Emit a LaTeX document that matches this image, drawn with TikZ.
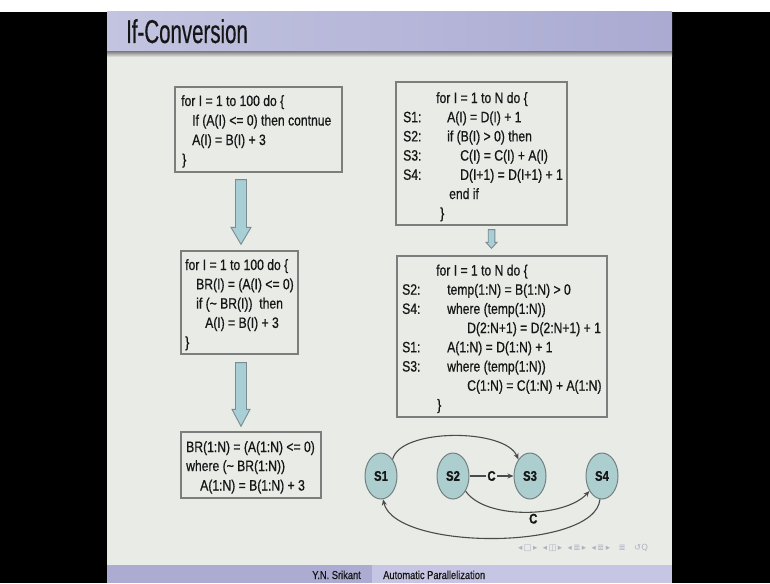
\documentclass[tikz,border=0pt]{standalone}
\usepackage{fontspec}
\setmainfont{Liberation Sans}[FakeStretch=0.81, FakeBold=0.7]
\newfontfamily\titlefont{Liberation Sans}[FakeStretch=0.62, FakeBold=0.4]
\newfontfamily\symfont{DejaVu Sans}
\usetikzlibrary{arrows.meta,shapes.geometric,calc}
\definecolor{slidebg}{RGB}{233,235,231}
\definecolor{titleL}{RGB}{194,196,224}
\definecolor{titleR}{RGB}{170,170,210}
\definecolor{footL}{RGB}{172,172,210}
\definecolor{footR}{RGB}{198,198,228}
\definecolor{boxgray}{RGB}{125,125,125}
\definecolor{arrfill}{RGB}{168,206,214}
\definecolor{arrline}{RGB}{125,138,142}
\definecolor{ellfill}{RGB}{172,206,206}
\definecolor{ellline}{RGB}{115,128,128}
\definecolor{ink}{RGB}{22,22,22}
\definecolor{edgegray}{RGB}{75,75,75}
\definecolor{navgray}{RGB}{175,178,190}
\newcommand\codefont{\fontsize{15}{18}\selectfont}
\newcommand\blkarrow[5]{%
  \draw[blockarr] ($(#1)+(-#3,0)$) -- ($(#2)+(-#3,-#5)$) -- ($(#2)+(-#4,-#5)$) -- (#2)
    -- ($(#2)+(#4,-#5)$) -- ($(#2)+(#3,-#5)$) -- ($(#1)+(#3,0)$) -- cycle;}
\tikzset{
  codebox/.style={draw=boxgray, line width=1.3pt, inner sep=0pt},
  code/.style={anchor=base west, inner sep=0pt, font=\codefont, text=ink},
  blockarr/.style={fill=arrfill, draw=arrline, line width=0.9pt, line join=miter},
  stmt/.style={ellipse, draw=ellline, line width=1pt, fill=ellfill, minimum width=32pt,
    minimum height=46pt, inner sep=0pt, font=\bfseries\fontsize{14}{14}\selectfont, text=ink},
  edge/.style={draw=edgegray, line width=1.1pt, -{Stealth[length=6pt,width=5pt]}},
  lbl/.style={font=\bfseries\fontsize{14}{14}\selectfont, text=ink, inner sep=1.5pt}
}
\begin{document}
\begin{tikzpicture}[x=1pt,y=-1pt]
\useasboundingbox (0,0) rectangle (770,583);
% frame
\fill[white] (0,0) rectangle (770,12);
\fill[black] (0,12) rectangle (770,583);
\fill[slidebg] (107,12) rectangle (672,565);
\shade[left color=titleL, right color=titleR] (107,12) rectangle (672,52);
\shade[top color=black!45, bottom color=slidebg] (107,52) rectangle (672,57);
\node[anchor=base west, inner sep=0pt, font=\titlefont\fontsize{33}{33}\selectfont, text=ink] (title) at (126,43) {If-Conversion};
% footer
\fill[footL] (107,565) rectangle (372,583);
\fill[footR] (372,565) rectangle (672,583);
\node[anchor=base east, inner sep=0pt, font=\fontsize{11.5}{12}\selectfont, text=ink] (author) at (361,579) {Y.N. Srikant};
\node[anchor=base west, inner sep=0pt, font=\fontsize{11.5}{12}\selectfont, text=ink] (talk) at (383,579) {Automatic Parallelization};
\node[inner sep=0pt, font=\symfont\fontsize{8.5}{8.5}\selectfont, text=navgray] (nav) at (583,548)
  {◂\,□\,▸\ \ ◂\,◫\,▸\ \ ◂\,≣\,▸\ \ ◂\,≣\,▸\quad ≣\quad ↺Q};
% boxes
\node[codebox, minimum width=167pt, minimum height=85pt] (b1) at (258.5,129.5) {};
\node[codebox, minimum width=117pt, minimum height=103pt] (b2) at (239.5,302.5) {};
\node[codebox, minimum width=140pt, minimum height=66pt] (b3) at (251,465) {};
\node[codebox, minimum width=171pt, minimum height=143pt] (b4) at (481.5,153.5) {};
\node[codebox, minimum width=210pt, minimum height=161pt] (b5) at (502,336.5) {};
% box 1
\node[code] (b1a) at (181,106) {for I = 1 to 100 do \{};
\node[code] (b1b) at (192,125.5) {If (A(I) <= 0) then contnue};
\node[code] (b1c) at (192,145) {A(I) = B(I) + 3};
\node[code] (b1d) at (182,164.5) {\}};
% box 2
\node[code] (b2a) at (185,270) {for I = 1 to 100 do \{};
\node[code] (b2b) at (196,289.3) {BR(I) = (A(I) <= 0)};
\node[code] (b2c) at (196,308.6) {if (\textasciitilde\ BR(I))\ \ then};
\node[code] (b2d) at (205,327.9) {A(I) = B(I) + 3};
\node[code] (b2e) at (185,347.2) {\}};
% box 3
\node[code] (b3a) at (186,452) {BR(1:N) = (A(1:N) <= 0)};
\node[code] (b3b) at (186,471) {where (\textasciitilde\ BR(1:N))};
\node[code] (b3c) at (200,490.5) {A(1:N) = B(1:N) + 3};
% box 4
\node[code] (b4a) at (436,103) {for I = 1 to N do \{};
\node[code] (b4l1) at (403,122.2) {S1:};
\node[code] (b4b) at (447,122.2) {A(I) = D(I) + 1};
\node[code] (b4l2) at (403,141.4) {S2:};
\node[code] (b4c) at (447,141.4) {if (B(I) > 0) then};
\node[code] (b4l3) at (403,160.6) {S3:};
\node[code] (b4d) at (460,160.6) {C(I) = C(I) + A(I)};
\node[code] (b4l4) at (403,179.8) {S4:};
\node[code] (b4e) at (460,179.8) {D(I+1) = D(I+1) + 1};
\node[code] (b4f) at (449,199) {end if};
\node[code] (b4g) at (440,218.2) {\}};
% box 5
\node[code] (b5a) at (436,275.5) {for I = 1 to N do \{};
\node[code] (b5l2) at (402,294.7) {S2:};
\node[code] (b5b) at (447,294.7) {temp(1:N) = B(1:N) > 0};
\node[code] (b5l4) at (402,313.9) {S4:};
\node[code] (b5c) at (447,313.9) {where (temp(1:N))};
\node[code] (b5d) at (467,333.1) {D(2:N+1) = D(2:N+1) + 1};
\node[code] (b5l1) at (402,352.3) {S1:};
\node[code] (b5e) at (447,352.3) {A(1:N) = D(1:N) + 1};
\node[code] (b5l3) at (402,371.5) {S3:};
\node[code] (b5f) at (447,371.5) {where (temp(1:N))};
\node[code] (b5g) at (467,390.7) {C(1:N) = C(1:N) + A(1:N)};
\node[code] (b5h) at (437,409.9) {\}};
% block arrows
\coordinate (a1s) at ($(b2.north |- b1.south)+(1.5,7)$);
\coordinate (a1e) at ($(b2.north)+(1.5,-6)$);
\coordinate (a2s) at ($(b3.north |- b2.south)+(-10,8)$);
\coordinate (a2e) at ($(b3.north)+(-10,-5)$);
\coordinate (a3s) at ($(b4.south)+(10,4)$);
\coordinate (a3e) at ($(b5.north)+(-10.5,-7)$);
\blkarrow{a1s}{a1e}{5.5}{10}{17}
\blkarrow{a2s}{a2e}{5.5}{9}{17}
\blkarrow{a3s}{a3e}{3.3}{5.5}{6}
% dependence graph
\node[stmt] (S1) at (381,476) {S1};
\node[stmt] (S2) at (453,476) {S2};
\node[stmt] (S3) at (530,476) {S3};
\node[stmt] (S4) at (602,476) {S4};
\draw[edge] (S1.55) .. controls (400,428) and (505,428) .. (S3.125);
\draw[edge] (S2) -- node[lbl, fill=slidebg] (c1) {C} (S3);
\draw[edge] (S2.-50) .. controls (485,520) and (565,518) .. node[lbl, pos=0.55, below=0pt] (c2) {C} (S4.-130);
\draw[edge] (S4.-95) .. controls (595,551) and (395,551) .. (S1.-85);
\end{tikzpicture}
\end{document}
